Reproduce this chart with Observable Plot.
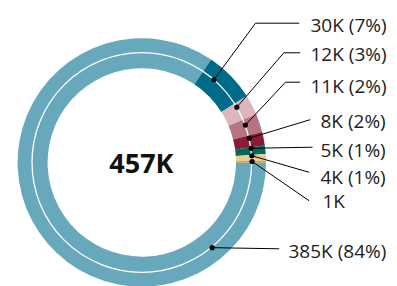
<!DOCTYPE html>
<html><head><meta charset="utf-8">
<script src="https://cdn.jsdelivr.net/npm/d3@7"></script>
<script src="https://cdn.jsdelivr.net/npm/@observablehq/plot@0.6"></script>
<style>html,body{margin:0;padding:0;background:#fff;} svg{display:block}</style>
</head><body><div id="chart"></div>
<script>
// ---- data ----
const categories = ["A", "B", "C", "D", "E", "F", "G", "H"];
const values = [385, 30, 12, 11, 8, 5, 4, 1];           // thousands
const percents = [84, 7, 3, 2, 2, 1, 1, null];
const colors = ["#67a8bd", "#006a8a", "#dcb6be", "#b67380", "#8b1b34", "#03685e", "#e8ce92", "#d29b2b"];
const totalLabel = "457K";

// ---- layout (pixels) ----
const CX = 141.8, CY = 162.5;
const R_OUT = 124.2, R_IN = 94.2, R_MID = 109.8;
const dotFrac = [0.166, 0.285, 0.19, 0.31, 0.18, 0.05, 0.05, 0.0];
const elbowPos = [null, [255, 22.7], [283.3, 52.3], [285, 81.7], null, null, null, null];
const lineEnd = [[278.3, 248.3], [298.3, 22.7], [299.3, 52.3], [299.3, 81.7], [309.3, 119.3], [311.7, 146.7], [308.3, 171.7], [308.3, 200]];
const textPos = [[288, 257], [310, 31], [310, 60], [310, 92], [320, 127], [320, 156], [320, 183], [322, 207]];

const slices = d3.pie().sort(null).startAngle(Math.PI / 2).endAngle(Math.PI / 2 + 2 * Math.PI)(values);

const labels = values.map((v, i) => ({
  id: categories[i],
  text: percents[i] == null ? `${v}K` : `${v}K (${percents[i]}%)`,
  x: textPos[i][0], y: textPos[i][1]
}));

const dots = slices.map((s, i) => {
  const a = s.startAngle + dotFrac[i] * (s.endAngle - s.startAngle);
  return {id: categories[i], x: CX + R_MID * Math.sin(a), y: CY - R_MID * Math.cos(a)};
});

const leader = [];
dots.forEach((d, i) => {
  leader.push({id: d.id, x: d.x, y: d.y});
  if (elbowPos[i]) leader.push({id: d.id, x: elbowPos[i][0], y: elbowPos[i][1]});
  leader.push({id: d.id, x: lineEnd[i][0], y: lineEnd[i][1]});
});

const ringMark = (index, scales) => {
  const g = d3.create("svg:g");
  const cx = scales.x(CX), cy = scales.y(CY);
  const k = scales.x(CX + 1) - cx;
  const arc = d3.arc().innerRadius(R_IN * k).outerRadius(R_OUT * k);
  g.append("g").attr("transform", `translate(${cx},${cy})`)
    .selectAll("path").data(slices).join("path")
    .attr("d", arc).attr("fill", (d, i) => colors[i]);
  g.append("circle").attr("cx", cx).attr("cy", cy).attr("r", R_MID * k)
    .attr("fill", "none").attr("stroke", "white").attr("stroke-width", 1.3);
  return g.node();
};

const chart = Plot.plot({
  width: 397, height: 286,
  margin: 0,
  x: {type: "linear", domain: [0, 397], range: [0, 397], axis: null},
  y: {type: "linear", domain: [0, 286], range: [0, 286], axis: null},
  style: {fontFamily: "'Open Sans', sans-serif", background: "white"},
  marks: [
    ringMark,
    Plot.line(leader, {x: "x", y: "y", z: "id", stroke: "black", strokeWidth: 1}),
    Plot.dot(dots, {x: "x", y: "y", r: 2.6, fill: "black"}),
    Plot.text(labels, {x: "x", y: "y", text: "text", textAnchor: "start", lineAnchor: "bottom", fontSize: 19, fill: "#222"}),
    Plot.text([totalLabel], {x: [CX - 0.9], y: [CY + 9.8], text: d => d, textAnchor: "middle", lineAnchor: "bottom", fontSize: 27, fontWeight: "bold", fill: "#111"})
  ]
});
document.getElementById("chart").appendChild(chart);
</script>
</body></html>
